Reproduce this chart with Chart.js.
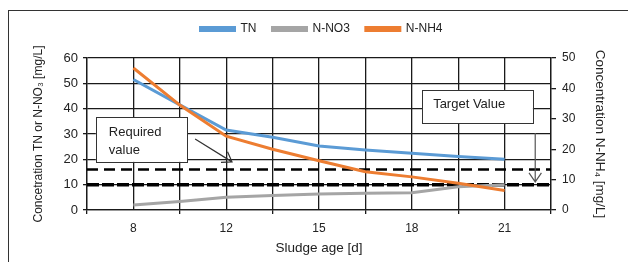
<!DOCTYPE html>
<html>
<head>
<meta charset="utf-8">
<script src="https://cdn.jsdelivr.net/npm/chart.js@4.4.0/dist/chart.umd.min.js"></script>
<style>
  html, body { margin: 0; padding: 0; background: #fff; }
  #wrap { position: relative; width: 628px; height: 262px; overflow: hidden; }
  canvas { position: absolute; left: 0; top: 0; }
  #frame { position: absolute; left: 8px; top: 10px; width: 640px; height: 270px;
           border-left: 1.5px solid #333; border-top: 1.5px solid #333; pointer-events: none; }
</style>
</head>
<body>
<div id="wrap">
  <canvas id="sludgeChart" width="628" height="262"></canvas>
  <div id="frame"></div>
</div>
<script>
// sludge age categories (only every other slot is labelled)
const sludgeAges = ['', '8', '', '12', '', '15', '', '18', '', '21', ''];

// left axis, mg/L
const tnValues  = [null, 51.5, 41.5, 31.6, 28.7, 25.3, 23.7, 22.4, 21.1, 20.0, null];
const no3Values = [null, 2.0, 3.4, 5.0, 5.7, 6.3, 6.6, 6.8, 9.2, 10.0, null];
// right axis, mg/L
const nh4Values = [null, 46.7, 34.5, 24.3, 20.0, 16.2, 12.6, 10.9, 8.8, 6.4, null];

// limit lines (left axis)
const requiredLimit = [16, 16, 16, 16, 16, 16, 16, 16, 16, 16, 16];
const targetLimit   = [10, 10, 10, 10, 10, 10, 10, 10, 10, 10, 10];

const leftTicks  = [0, 10, 20, 30, 40, 50, 60];
const rightTicks = [0, 10, 20, 30, 40, 50];

const ink = '#1a1a1a';
const font = 'Liberation Sans, Arial, sans-serif';

// text boxes and arrows, placed in axis units (x = category index, y = left axis)
const notes = [
  { x0: 0.19, x1: 2.16, y0: 36.7, y1: 19.0, tx: 0.47, lines: [['Required', 30.5], ['value', 23.7]] },
  { x0: 7.22, x1: 9.61, y0: 47.4, y1: 34.3, tx: 7.46, lines: [['Target Value', 41.5]] }
];
const arrows = [
  { from: [2.33, 28.0], to: [3.125, 19.0], color: '#333' },
  { from: [9.66, 30.4], to: [9.66, 11.1], color: '#555' }
];

const notesPlugin = {
  id: 'notes',
  afterDraw(chart) {
    const c = chart.ctx;
    const xs = chart.scales.x, ys = chart.scales.y;
    c.save();
    notes.forEach(n => {
      const l = xs.getPixelForValue(n.x0), r = xs.getPixelForValue(n.x1);
      const t = ys.getPixelForValue(n.y0), b = ys.getPixelForValue(n.y1);
      c.fillStyle = '#fff';
      c.fillRect(l, t, r - l, b - t);
      c.strokeStyle = '#333';
      c.lineWidth = 1;
      c.strokeRect(Math.round(l) + 0.5, Math.round(t) + 0.5, Math.round(r - l), Math.round(b - t));
      c.fillStyle = '#222';
      c.font = '13px ' + font;
      c.textBaseline = 'middle';
      n.lines.forEach(([txt, yv]) => {
        c.fillText(txt, xs.getPixelForValue(n.tx), ys.getPixelForValue(yv));
      });
    });
    arrows.forEach(a => {
      const x1 = xs.getPixelForValue(a.from[0]), y1 = ys.getPixelForValue(a.from[1]);
      const x2 = xs.getPixelForValue(a.to[0]), y2 = ys.getPixelForValue(a.to[1]);
      const ang = Math.atan2(y2 - y1, x2 - x1);
      c.strokeStyle = a.color;
      c.lineWidth = 1.2;
      c.beginPath();
      c.moveTo(x1, y1);
      c.lineTo(x2, y2);
      c.moveTo(x2 - 11 * Math.cos(ang - 0.6), y2 - 11 * Math.sin(ang - 0.6));
      c.lineTo(x2, y2);
      c.lineTo(x2 - 11 * Math.cos(ang + 0.6), y2 - 11 * Math.sin(ang + 0.6));
      c.stroke();
    });
    c.restore();
  }
};

new Chart(document.getElementById('sludgeChart'), {
  type: 'line',
  data: {
    labels: sludgeAges,
    datasets: [
      { label: 'TN', data: tnValues, yAxisID: 'y', borderColor: '#5b9bd5', backgroundColor: '#5b9bd5',
        borderWidth: 3, pointRadius: 0, spanGaps: true, order: 1 },
      { label: 'N-NO3', data: no3Values, yAxisID: 'y', borderColor: '#a5a5a5', backgroundColor: '#a5a5a5',
        borderWidth: 3, pointRadius: 0, spanGaps: true, order: 2 },
      { label: 'N-NH4', data: nh4Values, yAxisID: 'y1', borderColor: '#ed7d31', backgroundColor: '#ed7d31',
        borderWidth: 3, pointRadius: 0, spanGaps: true, order: 0 },
      { label: 'required', data: requiredLimit, yAxisID: 'y', borderColor: '#000', borderWidth: 2.5,
        borderDash: [11, 6], pointRadius: 0, order: 3 },
      { label: 'target', data: targetLimit, yAxisID: 'y', borderColor: '#000', borderWidth: 3.5,
        borderDash: [12, 3], pointRadius: 0, order: 3 }
    ]
  },
  options: {
    responsive: false,
    animation: false,
    devicePixelRatio: 1,
    layout: { padding: { top: 7, left: 15, right: 0, bottom: 0 } },
    plugins: {
      tooltip: { enabled: false },
      // blank title used only as a spacer between legend and plot
      title: { display: true, text: ' ', weight: 500, font: { size: 10 }, padding: { top: 0, bottom: 1 } },
      legend: {
        position: 'top',
        labels: {
          boxWidth: 34,
          boxHeight: 3,
          padding: 16,
          color: '#222',
          font: { family: font, size: 12 },
          filter: item => item.datasetIndex < 3,
          sort: (a, b) => a.datasetIndex - b.datasetIndex
        }
      }
    },
    scales: {
      x: {
        type: 'category',
        offset: false,
        border: { color: ink, width: 1.3 },
        grid: {
          color: ink, lineWidth: 1.3, tickLength: 4,
          tickColor: c => (c.index % 2 === 0 ? ink : 'rgba(0,0,0,0)')
        },
        ticks: { autoSkip: false, maxRotation: 0, padding: 7, color: '#222', font: { family: font, size: 12 } },
        title: { display: true, text: 'Sludge age [d]', color: '#222', font: { family: font, size: 13.5 },
                 padding: { top: 0, bottom: 6 } },
        afterFit(scale) { scale.height = 52; }
      },
      y: {
        position: 'left',
        min: leftTicks[0], max: leftTicks[leftTicks.length - 1],
        border: { color: ink, width: 1.3 },
        grid: { color: ink, lineWidth: 1.3, tickLength: 4 },
        ticks: { stepSize: 10, padding: 5, color: '#222', font: { family: font, size: 13 } },
        title: { display: true, text: 'Concetration TN or N-NO\u2083 [mg/L]', color: '#222',
                 font: { family: font, size: 12 }, padding: { top: 16, bottom: 0 } },
        afterFit(scale) { scale.width = 72; }
      },
      y1: {
        position: 'right',
        min: rightTicks[0], max: rightTicks[rightTicks.length - 1],
        border: { color: ink, width: 1.3 },
        grid: { drawOnChartArea: false, color: ink, lineWidth: 1.3, tickLength: 5 },
        ticks: { stepSize: 10, padding: 6, color: '#222', font: { family: font, size: 12 } },
        title: { display: true, text: 'Concentration N-NH\u2084 [mg/L]', color: '#222',
                 font: { family: font, size: 13.5 }, padding: { top: 20, bottom: 0 } },
        afterFit(scale) { scale.width = 77; }
      }
    }
  },
  plugins: [notesPlugin]
});
</script>
</body>
</html>
